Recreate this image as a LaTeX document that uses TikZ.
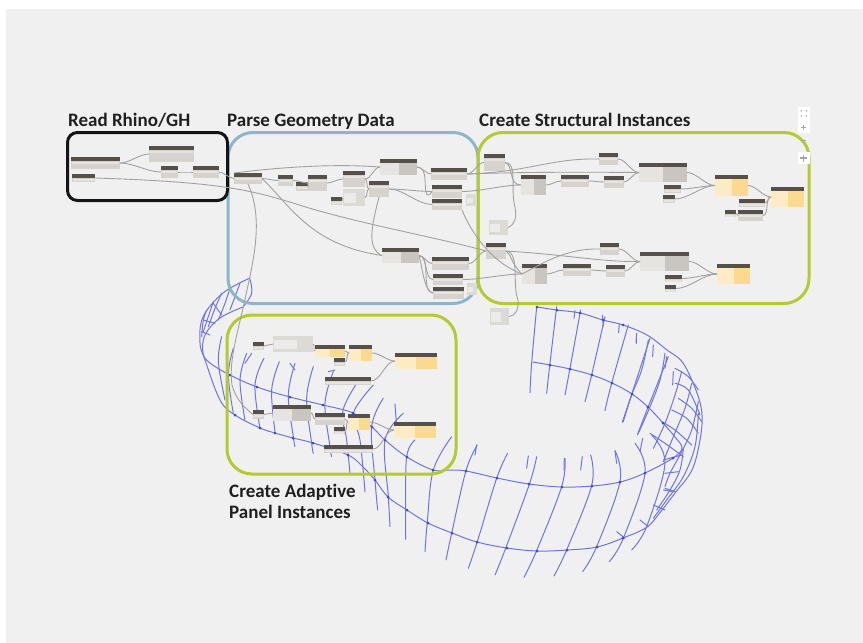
\documentclass[tikz,border=0pt]{standalone}
\usepackage{fontspec}
\setmainfont[Ligatures=NoCommon]{Carlito}
\definecolor{bgc}{HTML}{F0F0F0}
\definecolor{hdr}{HTML}{56504A}
\definecolor{bodyc}{HTML}{D6D3CE}
\definecolor{bodyl}{HTML}{E6E4E0}
\definecolor{bodyd}{HTML}{C9C6C1}
\definecolor{yelc}{HTML}{FBD98F}
\definecolor{yell}{HTML}{FDEBC4}
\definecolor{meshc}{HTML}{6E74E8}
\definecolor{meshd}{HTML}{3F46D8}
\definecolor{bluef}{HTML}{8AB7CB}
\definecolor{greenf}{HTML}{B5CA2B}
\definecolor{wirec}{HTML}{A3A19E}
\tikzset{
  mesh/.style={draw=meshc,line width=1pt,line cap=round,line join=round},
  wire/.style={draw=wirec,line width=.9pt},
  sw/.style={wire,out=0,in=180,looseness=.8},
  frameb/.style={draw,line width=3pt,rounded corners=#1,fill=none,inner sep=0pt,outer sep=0pt},
  dbody/.style={inner sep=0pt,outer sep=0pt,anchor=north west},
  lab/.style={font=\fontsize{19}{22}\selectfont\bfseries,text=black!88,anchor=base west,inner sep=0pt},
  Z4/.style={shift={(340,300)},x=.3333pt,y=-.3333pt},
  Z3/.style={shift={(190,300)},x=.3333pt,y=-.3333pt},
  Z5/.style={shift={(180,260)},x=.3333pt,y=-.3333pt},
  Z6/.style={shift={(620,330)},x=.3333pt,y=-.3333pt},
}
% gray node: name,x1,y1,x2,y2
\newcommand{\dyn}[5]{%
  \pgfmathsetmacro\dw{#4-#2}\pgfmathsetmacro\dh{#5-#3}%
  \node[dbody,fill=bodyc,minimum width=\dw pt,minimum height=\dh pt] (#1) at (#2,#3) {};
  \fill[bodyl] ([yshift=-5pt,xshift=1pt]#1.north west) rectangle ([yshift=-7pt,xshift=-1pt]#1.north east);
  \fill[hdr] (#1.north west) rectangle ([yshift=-3.6pt]#1.north east);}
% big gray node: lighter left, darker right
\newcommand{\dbig}[5]{%
  \pgfmathsetmacro\dw{#4-#2}\pgfmathsetmacro\dh{#5-#3}%
  \node[dbody,fill=bodyd,minimum width=\dw pt,minimum height=\dh pt] (#1) at (#2,#3) {};
  \fill[bodyl] ([yshift=-4pt]#1.north west) rectangle ([xshift=-.5*\dw pt]#1.south east);
  \fill[hdr] (#1.north west) rectangle ([yshift=-4pt]#1.north east);}
% header-less pale node
\newcommand{\dpale}[5]{%
  \pgfmathsetmacro\dw{#4-#2}\pgfmathsetmacro\dh{#5-#3}%
  \node[dbody,fill=bodyc!85!white,minimum width=\dw pt,minimum height=\dh pt] (#1) at (#2,#3) {};
  \fill[bodyc!45!white] ([yshift=-4pt,xshift=1pt]#1.north west) rectangle ([yshift=3pt,xshift=-.4*\dw pt]#1.south east);}
% yellow node
\newcommand{\dyel}[5]{%
  \pgfmathsetmacro\dw{#4-#2}\pgfmathsetmacro\dh{#5-#3}%
  \node[dbody,fill=yelc,minimum width=\dw pt,minimum height=\dh pt] (#1) at (#2,#3) {};
  \fill[yell] ([yshift=-4pt]#1.north west) rectangle ([xshift=-.5*\dw pt]#1.south east);
  \fill[hdr] (#1.north west) rectangle ([yshift=-4pt]#1.north east);}
\newcommand{\wl}[1]{\draw[mesh] plot[smooth,tension=.6] coordinates {#1};}
\begin{document}
\begin{tikzpicture}[x=1pt,y=-1pt]
\useasboundingbox (0,0) rectangle (863,643);
\fill[bgc] (6,9) rectangle (863,643);

% ---------- wireframe ----------
% lower outer rail
\wl{(250,278)(223,293)(203,317)(200,343)(205,360)(220,400)(235,415)(260,428)(275,433)(293,438)(313,443)(348,455)(363,467)(375,480)(388,497)(407,510)(428,523)(452,533)(477,542)(507,548)(537,551)(567,550)(597,547)(623,538)(647,527)(662,510)(675,493)(692,470)(700,440)(702,415)(697,393)(683,363)(667,350)(647,335)(623,325)(603,320)(580,313)(557,310)(537,307)}
% middle rail
\wl{(243,307)(220,318)(205,335)(203,353)(210,363)(230,375)(257,387)(290,397)(323,405)(353,413)(372,427)(385,440)(407,457)(433,470)(450,470)(466,471)(497,478)(529,484)(562,487)(592,486)(620,482)(645,473)(673,458)(682,448)(675,437)(663,423)(648,407)(632,394)(612,383)(592,375)(570,369)(550,365)(533,362)}
\begin{scope}[Z4]
\wl{(590,22)(575,190)(570,278)}
\wl{(650,20)(630,190)(620,280)}
\wl{(722,30)(690,205)(675,285)}
\wl{(795,50)(755,225)(735,305)}
\wl{(865,75)(815,250)(795,332)}
\wl{(930,115)(875,283)(847,367)}
\wl{(985,170)(925,320)(892,405)}
\wl{(412,435)(378,512)(335,700)(318,780)}
\wl{(503,460)(470,535)(412,725)(385,805)}
\wl{(590,470)(568,553)(497,745)(465,825)}
\wl{(675,475)(665,560)(590,752)(552,832)}
\wl{(752,465)(755,557)(680,750)(642,828)}
\wl{(825,452)(840,545)(770,740)(728,815)}
\wl{(885,430)(915,520)(850,715)(808,785)}
\wl{(935,405)(975,490)(920,680)(875,750)}
\wl{(335,410)(280,510)(262,665)(255,755)}
\wl{(225,420)(200,470)(197,630)(197,718)}
\wl{(190,340)(135,420)(145,590)(150,680)}
\wl{(130,295)(95,380)(105,540)(113,630)}
\wl{(565,468)(560,505)}\wl{(727,470)(722,510)}\wl{(165,312)(170,380)}
\wl{(410,435)(405,465)}\wl{(673,475)(672,510)}\wl{(825,452)(830,490)}
\wl{(705,32)(702,55)}\wl{(787,45)(790,78)}\wl{(838,72)(836,98)}
\wl{(890,100)(888,128)}
\wl{(900,660)(925,680)}\wl{(940,615)(975,630)}\wl{(830,695)(855,715)}
\wl{(975,565)(1005,575)}
\end{scope}
\begin{scope}[Z6]
% right-hand dense part
\wl{(235,250)(225,350)(190,440)(140,510)(100,565)}
\wl{(190,355)(180,420)(150,480)(110,540)}
\wl{(165,115)(205,140)(235,180)}
\wl{(165,160)(205,180)(240,255)}
\wl{(175,205)(215,235)(245,275)}
\wl{(155,240)(200,265)(235,310)}
\wl{(125,275)(165,300)(215,345)}
\wl{(90,310)(135,340)(190,380)}
\wl{(85,30)(65,120)(35,195)(10,275)}
\wl{(135,70)(120,150)(88,235)(55,310)}
\wl{(185,125)(165,195)(135,280)(100,355)}
\wl{(215,160)(195,235)(160,320)(130,395)}
\wl{(235,215)(215,300)(185,365)(150,430)(135,470)}
\wl{(50,10)(50,40)}\wl{(100,45)(98,80)}\wl{(140,80)(135,115)}\wl{(160,125)(158,165)}
\wl{(68,325)(60,365)}\wl{(130,390)(185,375)}\wl{(135,430)(175,425)}\wl{(130,480)(160,485)}
\end{scope}
\begin{scope}[Z3]
\wl{(497,255)(458,335)(470,420)(480,520)}
\wl{(430,215)(405,310)(420,440)(425,470)}
\wl{(370,200)(350,295)(365,430)(370,460)}
\wl{(315,190)(295,285)(310,410)(315,440)}
\wl{(268,185)(245,270)(255,395)}
\wl{(222,175)(195,255)(210,385)}
\wl{(170,160)(150,240)(165,360)}
\wl{(130,145)(115,225)(130,340)}
\wl{(95,110)(85,185)(105,300)}
\wl{(550,255)(490,340)(510,420)(525,576)}
\wl{(165,190)(185,160)}\wl{(300,190)(315,210)}\wl{(415,215)(435,210)}
\end{scope}
\begin{scope}[Z5]
\wl{(210,58)(215,100)(190,140)}
\wl{(180,70)(165,110)(150,150)}
\wl{(150,85)(135,130)(115,180)}
\wl{(125,100)(105,145)(85,200)}
\wl{(100,125)(85,170)(70,215)}
\wl{(80,150)(70,180)(65,230)}
\wl{(100,130)(125,165)}\wl{(70,180)(105,190)}\wl{(65,215)(90,225)}
\end{scope}
% joints on the rails
\foreach \p in {(466,471),(497,478),(529,484),(562,487),(592,486),(620,482),(645,473),(673,458),(663,423),(648,407),(632,394),(612,383),(592,375),(570,369),(550,365),(433,470),(407,457),(385,440),(372,427),(353,413),(323,405),(290,397),(257,387),(230,375),
 (452,533),(477,542),(507,548),(537,551),(567,550),(597,547),(623,538),(428,523),(407,510),(388,497),(375,480),(348,455),(313,443),(293,438),(275,433),(260,428),(235,415),(623,325),(603,320),(580,313),(557,310),(537,307)}
  \fill[meshd] \p circle (1.5pt);

% ---------- group frames ----------
\node[frameb=25pt,draw=bluef,minimum width=250pt,minimum height=171pt,anchor=north west] (parse) at (228,132.5) {};
\node[frameb=10pt,draw=black!92,minimum width=160pt,minimum height=68pt,anchor=north west] (read) at (67.5,132.5) {};
\node[frameb=25pt,draw=greenf,minimum width=331pt,minimum height=171pt,anchor=north west] (struct) at (478,132.5) {};
\node[frameb=25pt,draw=greenf,minimum width=229pt,minimum height=159pt,anchor=north west] (adapt) at (227,315) {};

% ---------- Dynamo nodes ----------
\dyn{aa}{71}{157}{120}{169}\dyn{ab}{149}{146}{194}{162}\dyn{ac}{161}{166}{178}{178}\dyn{ad}{193}{166}{219}{178}\dyn{ae}{72}{174}{95}{182}
\dyn{ba}{234}{173}{262}{184}\dyn{bb}{278}{175}{293}{186}\dyn{bc}{296}{182}{308}{191}\dyn{bd}{308}{175}{327}{191}
\dyn{be}{343}{171}{365}{187}\dpale{bf}{343}{189}{365}{206}\dyn{bg}{331}{197}{342}{205}\dyn{bh}{369}{181}{389}{197}\dbig{bi}{380}{159}{417}{175}
\dyn{bj}{431}{168}{467}{180}\dyn{bk}{432}{185}{462}{198}\dyn{bl}{432}{199}{462}{210}\dpale{bm}{466}{194}{477}{206}
\dbig{bn}{382}{248}{419}{263}\dyn{bo}{432}{257}{469}{270}\dyn{bp}{433}{274}{463}{285}\dyn{bq}{433}{287}{464}{299}\dpale{br}{467}{283}{477}{295}
\dyn{ca}{484}{154}{505}{171}\dpale{cb}{489}{220}{508}{235}\dbig{cc}{521}{175}{546}{195}\dyn{cd}{561}{175}{589}{187}\dyn{ce}{604}{176}{624}{188}\dyn{cf}{599}{153}{618}{165}
\dbig{cg}{639}{163}{687}{182}\dyn{ch}{664}{185}{681}{193}\dyn{ci}{663}{195}{675}{203}\dyel{cj}{715}{175}{748}{196}\dyel{ck}{771}{187}{804}{207}
\dyn{cl}{739}{199}{765}{207}\dyn{cm}{738}{210}{763}{221}\dyn{cn}{725}{210}{736}{217}
\dyn{da}{486}{243}{506}{259}\dpale{db}{490}{308}{509}{325}\dbig{dc}{522}{264}{547}{284}\dyn{dd}{563}{264}{591}{276}\dyn{de}{606}{265}{625}{277}\dyn{df}{600}{243}{619}{255}
\dbig{dg}{640}{252}{689}{271}\dyn{dh}{665}{275}{682}{282}\dyn{di}{665}{285}{676}{292}\dyel{dj}{717}{264}{750}{284}
\dyn{ea}{253}{342}{264}{350}\dpale{eb}{273}{336}{313}{352}\dyel{ec}{315}{345}{345}{357}\dyn{ed}{334}{358}{345}{366}\dyel{ee}{349}{345}{372}{361}\dyel{ef}{395}{353}{437}{369}\dyn{eg}{325}{377}{371}{385}
\dyn{fa}{253}{410}{264}{419}\dbig{fb}{273}{405}{311}{421}\dyn{fc}{315}{413}{345}{425}\dyn{fd}{334}{427}{345}{434}\dyel{fe}{348}{414}{370}{430}\dyel{ff}{394}{422}{436}{438}\dyn{fg}{324}{445}{373}{453}

% ---------- connectors ----------
\foreach \s/\t in {aa/ab,aa/ac,ac/ad,ad/ba,ba/bb,bb/bd,bc/bd,bd/be,be/bi,be/bh,bf/bh,bg/bf,bi/bj,bh/bk,bh/bl,bj/ca,bk/cc,bn/bo,bn/bp,bn/bq,bo/da,bp/dc,
  cc/cd,cd/ce,ce/cg,cf/cg,cg/cj,ch/cj,ci/cj,cj/ck,cl/ck,cm/ck,cn/cm,
  dc/dd,dd/de,de/dg,df/dg,dg/dj,dh/dj,di/dj,
  ea/eb,eb/ec,ec/ee,ed/ee,ee/ef,eg/ef,fa/fb,fb/fc,fc/fe,fd/fe,fe/ff,fg/ff}{
  \draw[sw] (\s.east) to (\t.west);
}
\draw[wire] (ae.east) .. controls (220,182) and (250,190) .. (293,203) .. controls (350,222) and (440,238) .. (da.west);
\draw[wire] (ba.north west) .. controls (290,166) and (340,164) .. (bi.west);
\draw[wire] (ba.east) .. controls (290,205) and (310,245) .. (bn.west);
\draw[wire] (ba.south) .. controls (262,215) and (256,250) .. (247,290) .. controls (240,325) and (228,360) .. (232,385) .. controls (236,400) and (245,408) .. (fa.west);
\draw[wire] (bi.east) .. controls (428,168) and (424,185) .. (426,192) .. controls (427,197) and (430,195) .. (bk.west);
\draw[wire] (bh.south) .. controls (372,225) and (366,248) .. (bn.west);
\draw[wire] (bj.east) .. controls (520,172) and (580,172) .. (cg.west);
\draw[wire] (bj.east) .. controls (530,172) and (550,158) .. (cf.west);
\draw[wire] (bl.south east) .. controls (470,230) and (490,262) .. (dc.west);
\draw[wire] (ca.east) .. controls (518,162) and (510,190) .. (515,207) .. controls (517,218) and (515,224) .. (cb.east);
\draw[wire] (ca.east) .. controls (514,165) and (508,185) .. (cc.west);
\draw[wire] (da.east) .. controls (520,252) and (512,285) .. (518,300) .. controls (519,310) and (515,316) .. (db.east);
\draw[wire] (da.east) .. controls (570,255) and (600,262) .. (dg.west);
\draw[wire] (da.east) .. controls (512,255) and (510,262) .. (dc.west);
\draw[wire] (dc.west) .. controls (540,265) and (565,248) .. (df.west);
\draw[wire] (bq.west) .. controls (424,292) and (422,265) .. (bn.east);

\node[lab] (tread) at (68,126) {Read Rhino/GH};
\node[lab] (tparse) at (227,126) {Parse Geometry Data};
\node[lab] (tstruct) at (479,126) {Create Structural Instances};
\node[lab] (tad) at (229,497) {Create Adaptive};
\node[lab] (tpanel) at (229,518) {Panel Instances};

% ---------- canvas control strip ----------
\fill[white] (798,107) rectangle (810,133);
\fill[white] (798,152) rectangle (810,164);
\draw[gray!70,line width=.9pt] (801,127.5) -- (806,127.5) (803.5,125) -- (803.5,130) (801,140) -- (806,140);
\draw[gray!70,line width=1.2pt] (800,158) -- (807,158) (803.5,154.5) -- (803.5,161.5);
\fill[gray!55] (800.5,110) rectangle +(1.5,1.5) (805.5,110) rectangle +(1.5,1.5) (800.5,115) rectangle +(1.5,1.5) (805.5,115) rectangle +(1.5,1.5);
\end{tikzpicture}
\end{document}
